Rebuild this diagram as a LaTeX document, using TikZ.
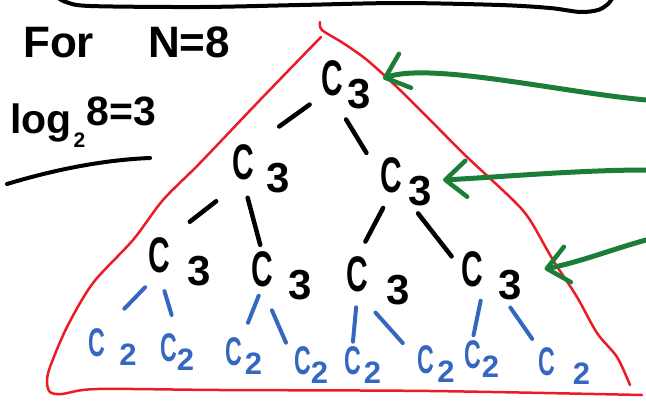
\documentclass[tikz,border=0pt]{standalone}
\usepackage{fontspec}
\setmainfont{Liberation Sans}
\usepackage{graphicx}
\usetikzlibrary{arrows.meta}
\definecolor{penred}{RGB}{236,28,36}
\definecolor{penblue}{RGB}{54,103,192}
\definecolor{pengreen}{RGB}{27,125,55}
\tikzstyle{cthree} = [inner sep=0pt, font=\bfseries\fontsize{50}{50}\selectfont]
\tikzstyle{ctwo} = [inner sep=0pt, text=penblue, font=\bfseries\fontsize{40}{40}\selectfont]
\tikzstyle{hand} = [inner sep=0pt, anchor=base west, font=\bfseries\fontsize{44}{44}\selectfont]
\tikzstyle{twig} = [draw, line width=4.5pt, line cap=round]
\tikzstyle{leafline} = [twig, penblue, line width=4pt]
\tikzstyle{pointer} = [draw, pengreen, line width=5pt, line cap=round,
    -{Straight Barb[length=21pt,width=36pt,line width=4.5pt,round]}]
\tikzstyle{rim} = [draw, penred, line width=2.5pt, line cap=round]
\newcommand{\cthr}[1]{\scalebox{0.6}[1]{C}\rlap{\hspace{#1}\smash{\raisebox{-13pt}{\fontsize{42}{42}\selectfont 3}}}}
\newcommand{\ctw}[1]{\scalebox{0.58}[1]{C}\rlap{\hspace{#1}\smash{\raisebox{-9pt}{\fontsize{31}{31}\selectfont 2}}}}

\begin{document}
\begin{tikzpicture}[x=1pt, y=-1pt]
  \useasboundingbox (0,0) rectangle (646,402);
  % box edge and notes
  \draw[line width=4pt, line cap=round] plot[smooth] coordinates {(57,-3) (66,2) (90,6) (200,7) (300,5) (400,3) (500,5) (550,8) (580,12) (598,10) (608,4) (613,-3)};
  \node[hand] (title) at (23,57) {For\hspace{54pt}N=8};
  \node[hand, font=\bfseries\fontsize{41}{41}\selectfont] (logs) at (10,133) {log\hspace{2pt}\raisebox{-14pt}{\fontsize{21}{21}\selectfont 2}\hspace{1pt}\raisebox{8pt}{8=3}};
  \draw[line width=4pt, line cap=round] (7,184) .. controls (50,171) and (100,160) .. (150,158);
  % red triangle
  \draw[rim] plot[smooth, tension=0.5] coordinates {(321,37) (260,100) (200,163) (163,200) (133,240) (93,283) (67,327) (50,367) (47,382) (50,392) (62,394) (97,389) (220,390) (430,391) (642,395)};
  \draw[rim] plot[smooth, tension=0.5] coordinates {(320,22) (322,30) (343,43) (367,60) (400,90) (443,133) (467,157) (513,200) (530,220) (553,260) (577,297) (597,333) (617,357) (630,385)};
  % tree
  \node[cthree] (a) at (332,78.5) {\cthr{5pt}};
  \node[cthree] (b1) at (243,162.5) {\cthr{13pt}};
  \node[cthree] (b2) at (391,175) {\cthr{7pt}};
  \node[cthree] (c1) at (159,255) {\cthr{18pt}};
  \node[cthree] (c2) at (262,269.5) {\cthr{16pt}};
  \node[cthree] (c3) at (357.5,274.5) {\cthr{18pt}};
  \node[cthree] (c4) at (472.5,269) {\cthr{15pt}};
  \node[ctwo] (l1) at (97,342.5) {\ctw{14pt}};
  \node[ctwo] (l2) at (168.5,347.5) {\ctw{0pt}};
  \node[ctwo] (l3) at (233.5,352) {\ctw{3pt}};
  \node[ctwo] (l4) at (302.5,361) {\ctw{0pt}};
  \node[ctwo] (l5) at (352.5,361) {\ctw{3pt}};
  \node[ctwo] (l6) at (426,359.5) {\ctw{3pt}};
  \node[ctwo] (l7) at (472.5,354.5) {\ctw{1pt}};
  \node[ctwo] (l8) at (546.5,361.5) {\ctw{18pt}};
  \draw[twig, shorten <=14pt, shorten >=31pt] (a.south west) -- (b1.north east);
  \draw[twig, shorten <=27pt, shorten >=26pt] (a.south) -- (b2.west);
  \draw[twig, shorten <=34pt, shorten >=25pt] (b1.south) -- (c1.north east);
  \draw[twig, shorten <=18pt, shorten >=7pt] (b1.south) -- (c2.north);
  \draw[twig, shorten <=17pt, shorten >=17pt] (b2.south) -- (c3.north);
  \draw[twig, shorten <=26pt, shorten >=16pt] (b2.south east) -- (c4.west);
  \draw[leafline, shorten <=20pt, shorten >=27pt] (c1.south) -- (l1.north east);
  \draw[leafline, shorten <=19pt, shorten >=19pt] (c1.south) -- (l2.north east);
  \draw[leafline, shorten <=9pt, shorten >=16pt] (c2.south) -- (l3.north east);
  \draw[leafline, shorten <=25pt, shorten >=20pt] (c2.south) -- (l4.west);
  \draw[leafline, shorten <=15pt, shorten >=5pt] (c3.south) -- (l5.north);
  \draw[leafline, shorten <=27pt, shorten >=22pt] (c3.south) -- (l6.west);
  \draw[leafline, shorten <=14pt, shorten >=5pt] (c4.south east) -- (l7.north);
  \draw[leafline, shorten <=47pt, shorten >=10pt] (c4.east) -- (l8.north west);
  % green pointers
  \coordinate (g1) at (646,100);
  \coordinate (g2) at (646,170);
  \coordinate (g3) at (646,240);
  \draw[pointer] (g1) .. controls (560,92) and (430,62) .. ([xshift=40pt]a.east);
  \draw[pointer] (g2) .. controls (580,170) and (500,177) .. ([xshift=41pt,yshift=-5pt]b2.east);
  \draw[pointer] (g3) .. controls (610,250) and (580,262) .. ([xshift=61pt]c4.east);
\end{tikzpicture}
\end{document}
